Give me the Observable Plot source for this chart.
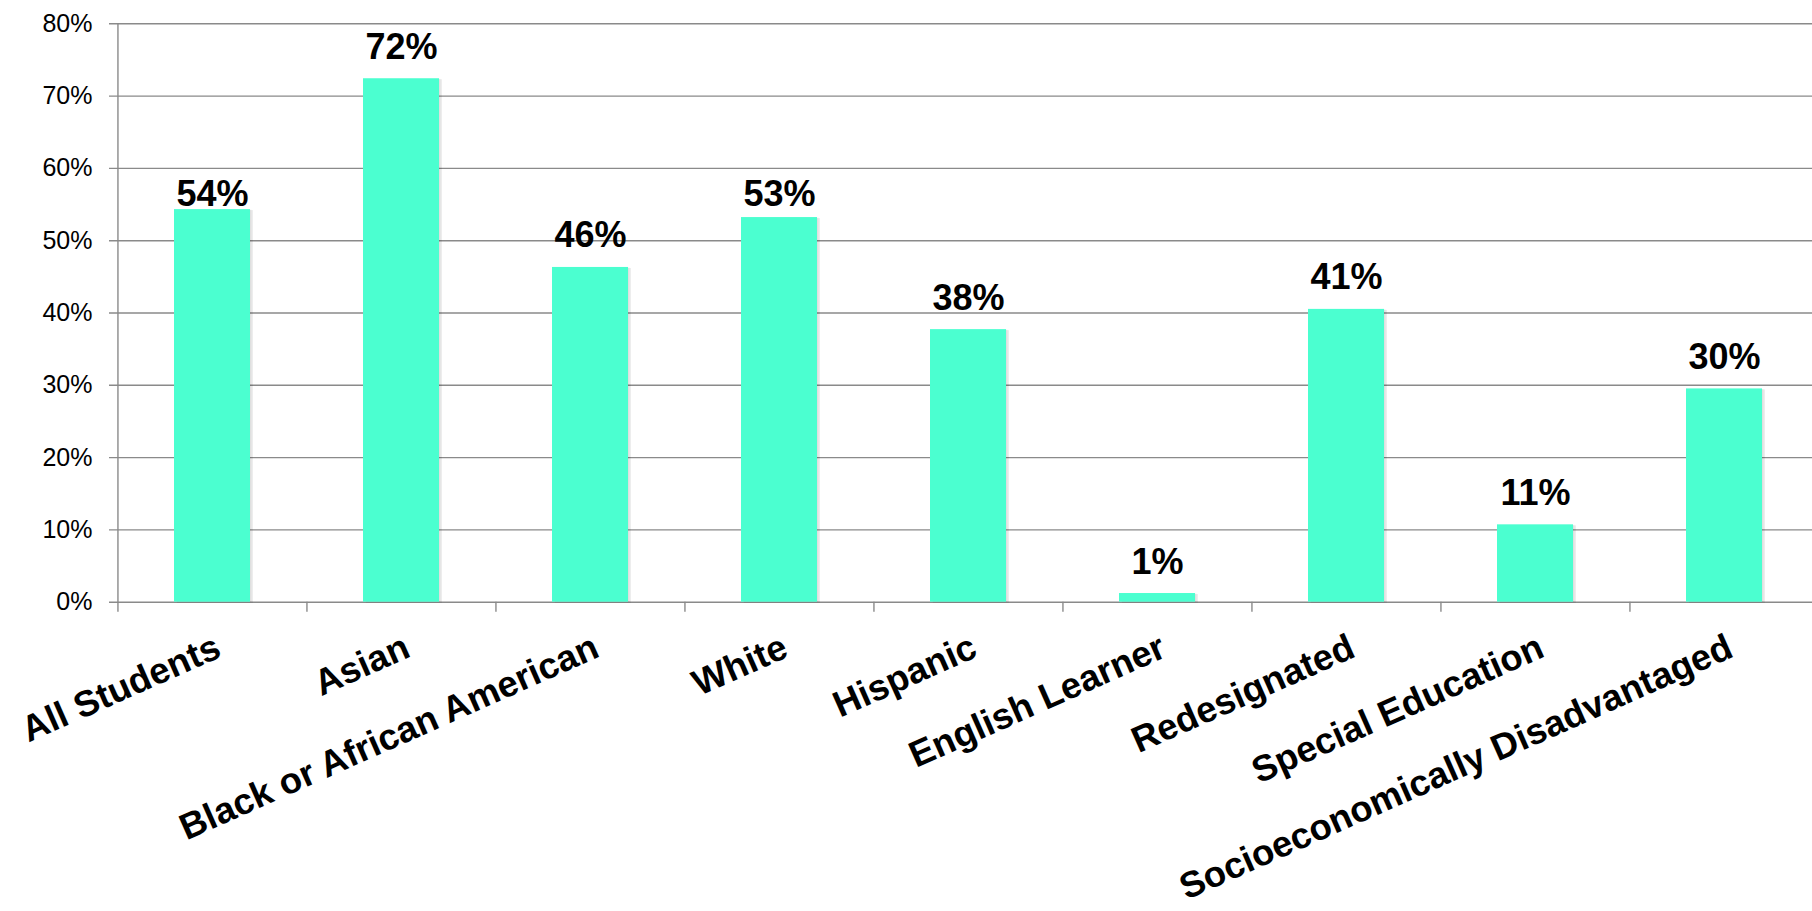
<!DOCTYPE html>
<html>
<head>
<meta charset="utf-8">
<script src="https://cdn.jsdelivr.net/npm/d3@7"></script>
<script src="https://cdn.jsdelivr.net/npm/@observablehq/plot@0.6"></script>
<style>
  html, body { margin: 0; padding: 0; background: #fff; overflow: hidden; }
</style>
</head>
<body>
<div id="chart"></div>
<script>
// ---- data ----
const categories = ["All Students", "Asian", "Black or African American", "White", "Hispanic",
  "English Learner", "Redesignated", "Special Education", "Socioeconomically Disadvantaged"];
const values = [54.3, 72.4, 46.3, 53.2, 37.7, 1.2, 40.5, 10.7, 29.5];
const valueLabels = ["54%", "72%", "46%", "53%", "38%", "1%", "41%", "11%", "30%"];
const yTicks = [0, 10, 20, 30, 40, 50, 60, 70, 80];

// ---- layout / style ----
const W = 1812, H = 911;
const mL = 117, mR = -7, mT = 23.3, mB = 309.3;
const step = (W - mL - mR) / categories.length;
const plotH = H - mT - mB;
const grid = "#8a8a8a";
const barFill = "#4bffd0";
const font = "'Liberation Sans', Arial, Helvetica, sans-serif";
// gap in px between bar top and value label baseline (a few labels were nudged in the original)
const labelGap = {"All Students": 4, "White": 12};

const data = categories.map((c, i) => ({category: c, value: values[i], label: valueLabels[i]}));
const gapGroups = d3.groups(data, d => labelGap[d.category] ?? 20);

const chart = Plot.plot({
  width: W,
  height: H,
  marginLeft: mL,
  marginRight: mR,
  marginTop: mT,
  marginBottom: mB,
  style: {fontFamily: font, background: "#fff", color: "#000", overflow: "visible"},
  x: {domain: categories, paddingInner: 0.6, paddingOuter: 0.3, axis: null},
  y: {domain: [0, 80], axis: null},
  marks: [
    // gridlines (extend left as tick marks)
    Plot.ruleY(yTicks, {stroke: grid, strokeWidth: 1.4, insetLeft: -8}),
    // y-axis line
    Plot.ruleX([categories[0]], {dx: -step / 2, stroke: grid, strokeWidth: 1.4, insetBottom: -10}),
    // category boundary ticks
    Plot.ruleX(categories.slice(1), {dx: -step / 2, stroke: grid, strokeWidth: 1.4, insetTop: plotH, insetBottom: -10}),
    // bar shadow
    Plot.barY(data, {x: "category", y: "value", fill: "#000", fillOpacity: 0.07, dx: 3, dy: 1}),
    Plot.barY(data, {x: "category", y: "value", fill: "#000", fillOpacity: 0.06, dx: 1.5, dy: 0.5}),
    // bars
    Plot.barY(data, {x: "category", y: "value", fill: barFill}),
    // value labels
    ...gapGroups.map(([gap, rows]) =>
      Plot.text(rows, {x: "category", y: "value", text: "label", lineAnchor: "bottom", dy: -gap,
        fontSize: 36, fontWeight: "bold", fill: "#000"})),
    // y tick labels
    Plot.text(yTicks, {y: d => d, text: d => d + "%", frameAnchor: "left", textAnchor: "end", dx: -25,
      fontSize: 25, fill: "#000"}),
    // x category labels
    Plot.text(categories, {x: d => d, text: d => d, frameAnchor: "bottom", dy: 30, rotate: -24,
      textAnchor: "end", lineAnchor: "top", fontSize: 36.5, fontWeight: "bold", fill: "#000"})
  ]
});
document.getElementById("chart").appendChild(chart);
</script>
</body>
</html>
